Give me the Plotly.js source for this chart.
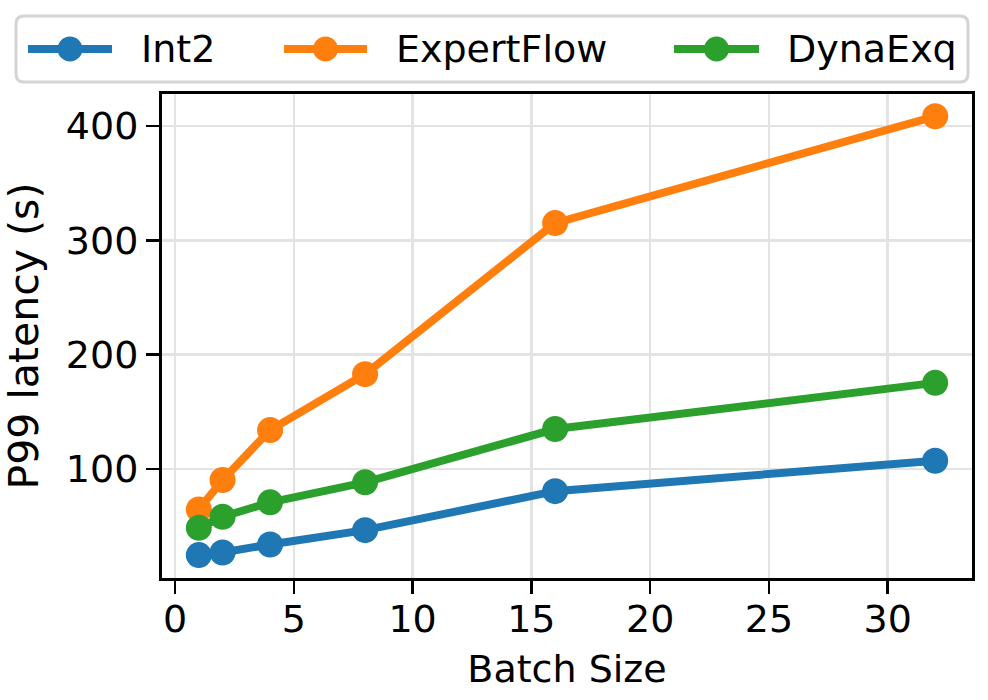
<!DOCTYPE html>
<html>
<head>
<meta charset="utf-8">
<script src="https://cdn.plot.ly/plotly-3.0.1.min.js"></script>
<style>html,body{margin:0;padding:0;background:#fff;}#chart{width:988px;height:700px;}</style>
</head>
<body>
<div id="chart"></div>
<script>
var batchSizes = [1, 2, 4, 8, 16, 32];
var int2 = [24.8, 27.1, 34.1, 46.6, 80.7, 107.3];
var expertFlow = [64.7, 90.4, 134.1, 183.0, 315.1, 408.5];
var dynaExq = [48.6, 58.3, 70.9, 88.4, 135.0, 175.4];
var seriesNames = ['Int2', 'ExpertFlow', 'DynaExq'];
var seriesColors = ['#1f77b4', '#ff7f0e', '#2ca02c'];
var xTicks = [0, 5, 10, 15, 20, 25, 30];
var yTicks = [100, 200, 300, 400];

var W = 988, H = 700;
var M = {l: 162, r: 16, t: 94, b: 122};
var PW = W - M.l - M.r, PH = H - M.t - M.b;
function px2x(px) { return (px - M.l) / PW; }
function px2y(py) { return (H - M.b - py) / PH; }

var font = 'DejaVu Sans, sans-serif';
var seriesValues = [int2, expertFlow, dynaExq];
var traces = seriesValues.map(function (vals, i) {
  return {
    x: batchSizes, y: vals, name: seriesNames[i],
    type: 'scatter', mode: 'lines+markers',
    line: {color: seriesColors[i], width: 8},
    marker: {color: seriesColors[i], size: 26},
    showlegend: false
  };
});

// custom legend (matplotlib-like) placed in pixel space
var legendBox = {x0: 16, x1: 968, y0: 16, y1: 82, r: 8};
var legendRowY = 49;
var legendItems = [
  {lineX0: 28, lineX1: 112, textX: 139},
  {lineX0: 284, lineX1: 367, textX: 394},
  {lineX0: 674, lineX1: 759, textX: 785}
];
var shapes = [];
var annotations = [];
(function () {
  var b = legendBox, r = b.r;
  var d = 'M' + px2x(b.x0 + r) + ',' + px2y(b.y0) +
    ' L' + px2x(b.x1 - r) + ',' + px2y(b.y0) +
    ' Q' + px2x(b.x1) + ',' + px2y(b.y0) + ' ' + px2x(b.x1) + ',' + px2y(b.y0 + r) +
    ' L' + px2x(b.x1) + ',' + px2y(b.y1 - r) +
    ' Q' + px2x(b.x1) + ',' + px2y(b.y1) + ' ' + px2x(b.x1 - r) + ',' + px2y(b.y1) +
    ' L' + px2x(b.x0 + r) + ',' + px2y(b.y1) +
    ' Q' + px2x(b.x0) + ',' + px2y(b.y1) + ' ' + px2x(b.x0) + ',' + px2y(b.y1 - r) +
    ' L' + px2x(b.x0) + ',' + px2y(b.y0 + r) +
    ' Q' + px2x(b.x0) + ',' + px2y(b.y0) + ' ' + px2x(b.x0 + r) + ',' + px2y(b.y0) + ' Z';
  shapes.push({type: 'path', xref: 'paper', yref: 'paper', path: d,
    fillcolor: '#ffffff', line: {color: '#d4d4d4', width: 3}, layer: 'above'});
  var mr = 12.5;
  legendItems.forEach(function (it, i) {
    shapes.push({type: 'line', xref: 'paper', yref: 'paper',
      x0: px2x(it.lineX0), x1: px2x(it.lineX1), y0: px2y(legendRowY), y1: px2y(legendRowY),
      line: {color: seriesColors[i], width: 8}, layer: 'above'});
    var cx = (it.lineX0 + it.lineX1) / 2;
    shapes.push({type: 'circle', xref: 'paper', yref: 'paper',
      x0: px2x(cx - mr), x1: px2x(cx + mr), y0: px2y(legendRowY + mr), y1: px2y(legendRowY - mr),
      fillcolor: seriesColors[i], line: {width: 0}, layer: 'above'});
    annotations.push({xref: 'paper', yref: 'paper', x: px2x(it.textX), y: px2y(legendRowY),
      xanchor: 'left', yanchor: 'middle', showarrow: false, text: seriesNames[i],
      font: {family: font, size: 38, color: '#000'}});
  });
})();

var axisCommon = {
  showline: true, mirror: true, linecolor: '#000', linewidth: 3,
  ticks: 'outside', ticklen: 13, tickwidth: 2.5, tickcolor: '#000',
  showgrid: true, gridcolor: '#e3e3e3', gridwidth: 2.5,
  zeroline: false, tickfont: {family: font, size: 38, color: '#000'},
  automargin: false
};

var layout = {
  width: W, height: H,
  paper_bgcolor: '#fff', plot_bgcolor: '#fff',
  margin: M,
  font: {family: font, color: '#000'},
  showlegend: false,
  shapes: shapes,
  annotations: annotations,
  xaxis: Object.assign({}, axisCommon, {
    range: [-0.55, 33.55], tickvals: xTicks, ticklabelstandoff: -8,
    title: {text: 'Batch Size', font: {family: font, size: 38, color: '#000'}, standoff: 16}
  }),
  yaxis: Object.assign({}, axisCommon, {
    range: [4.75, 428], tickvals: yTicks,
    title: {text: 'P99 latency (s)', font: {family: font, size: 41, color: '#000'}, standoff: 18}
  })
};

Plotly.newPlot('chart', traces, layout, {displayModeBar: false, staticPlot: true});
</script>
</body>
</html>
